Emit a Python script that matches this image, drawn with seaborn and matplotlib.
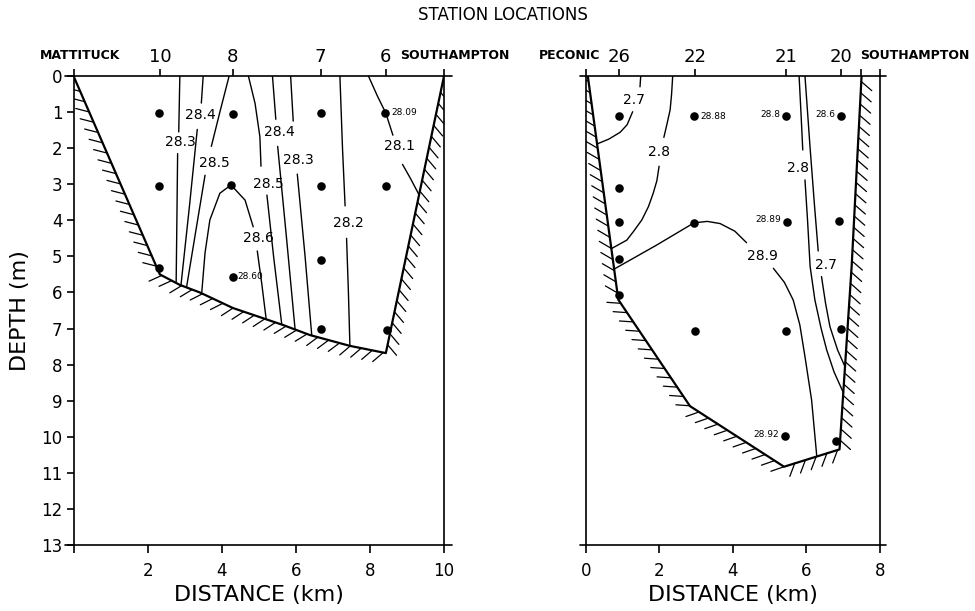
import matplotlib
matplotlib.use("Agg")
import matplotlib.pyplot as plt
import matplotlib.patheffects as pe
import seaborn as sns

sns.set_style("white")
plt.rcParams["font.family"] = ["DejaVu Sans"]
for k in ["text.color", "axes.labelcolor", "xtick.color", "ytick.color", "axes.edgecolor"]:
    plt.rcParams[k] = "black"

# ---------------- data: left section (Mattituck - Southampton) ----------------
left_station_x = [0.0, 2.33, 4.30, 6.67, 8.43, 10.0]
left_station_labels = ["", "10", "8", "7", "6", ""]
left_dots_x = [2.32, 2.32, 2.32, 4.31, 4.26, 4.30, 6.67, 6.67, 6.67, 6.67, 8.42, 8.43, 8.45]
left_dots_y = [1.03, 3.04, 5.32, 1.06, 3.03, 5.56, 1.03, 3.04, 5.10, 7.02, 1.03, 3.04, 7.04]
left_bank_x = [0.0, 2.33, 2.87, 3.41, 4.30, 5.65, 6.38, 7.46, 8.43, 10.0]
left_bank_y = [0.0, 5.50, 5.79, 6.00, 6.43, 6.90, 7.18, 7.48, 7.68, 0.0]

iso_L_283a = [[(2.87, 0.0), (2.84, 1.55)], [(2.81, 2.15), (2.79, 4.0), (2.77, 5.73)]]
iso_L_284a = [[(3.50, 0.0), (3.45, 0.75)], [(3.34, 1.48), (3.13, 3.6), (2.90, 5.80)]]
iso_L_285a = [[(4.20, 0.0), (3.95, 1.0), (3.72, 1.95)], [(3.55, 2.75), (3.30, 4.3), (3.05, 5.86)]]
iso_L_286 = [[(3.46, 6.02), (3.55, 4.9), (3.68, 3.99), (3.95, 3.25), (4.25, 3.02), (4.63, 3.44), (4.85, 4.18)],
             [(4.96, 4.85), (5.08, 5.75), (5.20, 6.74)]]
iso_L_285b = [[(4.72, 0.0), (4.90, 0.76), (5.03, 1.68), (5.06, 2.5)], [(5.22, 3.3), (5.40, 5.0), (5.62, 6.88)]]
iso_L_284b = [[(5.37, 0.0), (5.46, 1.2)], [(5.51, 1.95), (5.75, 4.5), (5.98, 7.02)]]
iso_L_283b = [[(5.86, 0.0), (5.93, 1.25)], [(6.04, 2.72), (6.25, 5.0), (6.43, 7.19)]]
iso_L_282 = [[(7.19, 0.0), (7.26, 2.0), (7.33, 3.6)], [(7.37, 4.5), (7.42, 6.0), (7.46, 7.48)]]
iso_L_281 = [[(7.96, 0.0), (8.20, 0.55), (8.43, 1.03), (8.62, 1.64)], [(8.88, 2.45), (9.10, 2.85), (9.33, 3.30)]]

left_iso_labels = [("28.4", 3.43, 1.09), ("28.3", 2.89, 1.84), ("28.5", 3.79, 2.42),
                   ("28.4", 5.55, 1.55), ("28.3", 6.07, 2.33), ("28.5", 5.27, 2.98),
                   ("28.6", 4.99, 4.48), ("28.2", 7.43, 4.07), ("28.1", 8.81, 1.94)]
left_point_labels = [("28.09", 8.58, 1.0), ("28.60", 4.43, 5.56)]

# ---------------- data: right section (Peconic - Southampton) ----------------
right_station_x = [0.0, 0.91, 2.98, 5.44, 6.93, 7.48, 8.0]
right_station_labels = ["", "26", "22", "21", "20", "", ""]
right_dots_x = [0.90, 0.90, 0.90, 0.90, 0.91, 2.94, 2.94, 2.96, 5.44, 5.46, 5.44, 5.42, 6.94, 6.89, 6.93, 6.80]
right_dots_y = [1.11, 3.11, 4.06, 5.08, 6.08, 1.10, 4.07, 7.07, 1.10, 4.04, 7.07, 9.97, 1.10, 4.01, 7.01, 10.12]
right_bank_x = [0.05, 0.88, 2.83, 5.39, 6.90, 7.23, 7.50]
right_bank_y = [0.0, 6.20, 9.15, 10.83, 10.35, 5.28, 0.0]

iso_R_27a = [[(1.49, 0.0), (1.47, 0.3)],
             [(1.27, 0.99), (1.12, 1.35), (0.93, 1.56), (0.62, 1.75), (0.31, 1.88)]]
iso_R_28a = [[(2.36, 0.0), (2.33, 0.5), (2.29, 0.94), (2.20, 1.35), (2.12, 1.7)],
             [(1.99, 2.5), (1.93, 2.9), (1.83, 3.25), (1.70, 3.62), (1.52, 3.99), (1.30, 4.3), (1.11, 4.55), (0.70, 4.78)]]
iso_R_289 = [[(0.77, 5.35), (1.9, 4.7), (2.94, 4.07), (3.3, 4.03), (3.65, 4.09), (4.05, 4.3), (4.37, 4.62)],
             [(5.10, 5.33), (5.40, 5.72), (5.64, 6.21), (5.82, 6.9), (5.96, 7.78), (6.14, 8.98), (6.28, 10.53)]]
iso_R_28b = [[(5.80, 0.0), (5.85, 1.0), (5.90, 2.05)],
             [(5.96, 2.88), (6.03, 4.0), (6.10, 5.28), (6.23, 6.21), (6.40, 7.0), (6.55, 7.59), (6.75, 8.2), (7.01, 8.79)]]
iso_R_27b = [[(5.96, 0.0), (6.10, 2.0), (6.22, 3.6), (6.32, 4.85)],
             [(6.41, 5.56), (6.52, 6.3), (6.64, 6.95), (6.85, 7.6), (7.05, 8.06)]]

right_iso_labels = [("2.7", 1.31, 0.67), ("2.8", 1.99, 2.11), ("28.9", 4.79, 4.99),
                    ("2.8", 5.77, 2.56), ("2.7", 6.52, 5.24)]
right_point_labels_l = [("28.88", 3.12, 1.12)]
right_point_labels_r = [("28.8", 5.28, 1.08), ("28.6", 6.78, 1.08), ("28.89", 5.30, 3.99), ("28.92", 5.26, 9.95)]

depth_ticks = list(range(0, 14))
left_dist_ticks = [0, 2, 4, 6, 8, 10]
left_dist_labels = ["", "2", "4", "6", "8", "10"]
right_dist_ticks = [0, 2, 4, 6, 8]
right_dist_labels = ["0", "2", "4", "6", "8"]

LW_AX = 1.2
fig = plt.figure(figsize=(9.75, 6.11), dpi=100)
axL = fig.add_axes([0.0754, 0.108, 0.380, 0.7676])
axR = fig.add_axes([0.601, 0.108, 0.3015, 0.7676])


def setup(ax, xmax, ext, st_x, st_lab, dticks, dlabels, show_y):
    ax.set_xlim(0, xmax)
    ax.set_ylim(13, 0)
    for s in ["top", "bottom"]:
        ax.spines[s].set_visible(False)
    for s in ["left", "right"]:
        ax.spines[s].set_linewidth(LW_AX)
        ax.spines[s].set_color("k")
    ax.plot([-ext, xmax + ext], [0, 0], color="k", lw=LW_AX, clip_on=False)
    ax.plot([-ext, xmax + ext], [13, 13], color="k", lw=LW_AX, clip_on=False)
    ax.set_xticks(dticks, dlabels)
    ax.tick_params(axis="x", bottom=True, direction="out", length=6, width=LW_AX,
                   labelsize=12, pad=6)
    if show_y:
        ax.set_yticks(depth_ticks, [str(v) for v in depth_ticks])
        ax.tick_params(axis="y", left=True, direction="out", length=5, width=LW_AX,
                       labelsize=12, pad=3)
    else:
        ax.set_yticks([])
    sec = ax.secondary_xaxis("top")
    sec.set_xticks(st_x, st_lab)
    sec.spines["top"].set_visible(False)
    sec.tick_params(direction="out", length=5, width=LW_AX, labelsize=13, pad=2)
    ax.set_xlabel("DISTANCE (km)", fontsize=16, labelpad=4)
    ax.grid(False)


setup(axL, 10, 0.22, left_station_x, left_station_labels, left_dist_ticks, left_dist_labels, True)
setup(axR, 8, 0.16, right_station_x, right_station_labels, right_dist_ticks, right_dist_labels, False)
axL.set_ylabel("DEPTH (m)", fontsize=16, labelpad=8)

hatch_fx = [pe.TickedStroke(angle=-128, spacing=8.0, length=1.25)]
for ax, bx, by in [(axL, left_bank_x, left_bank_y), (axR, right_bank_x, right_bank_y)]:
    ax.plot(bx, by, color="k", lw=1.6, zorder=3)
    ax.plot(bx, by, color="k", lw=0.9, path_effects=hatch_fx, zorder=3)


def draw_iso(ax, iso):
    for seg in iso:
        xs = [p[0] for p in seg]
        ys = [p[1] for p in seg]
        ax.plot(xs, ys, color="k", lw=1.0)


for iso in [iso_L_283a, iso_L_284a, iso_L_285a, iso_L_286, iso_L_285b, iso_L_284b,
            iso_L_283b, iso_L_282, iso_L_281]:
    draw_iso(axL, iso)
for iso in [iso_R_27a, iso_R_28a, iso_R_289, iso_R_28b, iso_R_27b]:
    draw_iso(axR, iso)

sns.scatterplot(x=left_dots_x, y=left_dots_y, ax=axL, color="k", s=38, linewidth=0, legend=False, zorder=5)
sns.scatterplot(x=right_dots_x, y=right_dots_y, ax=axR, color="k", s=38, linewidth=0, legend=False, zorder=5)

for t, x, y in left_iso_labels:
    axL.text(x, y, t, ha="center", va="center", fontsize=10)
for t, x, y in right_iso_labels:
    axR.text(x, y, t, ha="center", va="center", fontsize=10)
for t, x, y in left_point_labels:
    axL.text(x, y, t, ha="left", va="center", fontsize=6.5)
for t, x, y in right_point_labels_l:
    axR.text(x, y, t, ha="left", va="center", fontsize=6.5)
for t, x, y in right_point_labels_r:
    axR.text(x, y, t, ha="right", va="center", fontsize=6.5)

axL.text(0.18, -0.57, "MATTITUCK", ha="center", va="center", fontsize=9, fontweight="bold", clip_on=False)
axL.text(8.81, -0.57, "SOUTHAMPTON", ha="left", va="center", fontsize=9, fontweight="bold", clip_on=False)
axR.text(-0.44, -0.57, "PECONIC", ha="center", va="center", fontsize=9, fontweight="bold", clip_on=False)
axR.text(7.46, -0.57, "SOUTHAMPTON", ha="left", va="center", fontsize=9, fontweight="bold", clip_on=False)

fig.text(0.516, 0.975, "STATION LOCATIONS", ha="center", va="center", fontsize=12)

fig.savefig("out.png", dpi=100)
